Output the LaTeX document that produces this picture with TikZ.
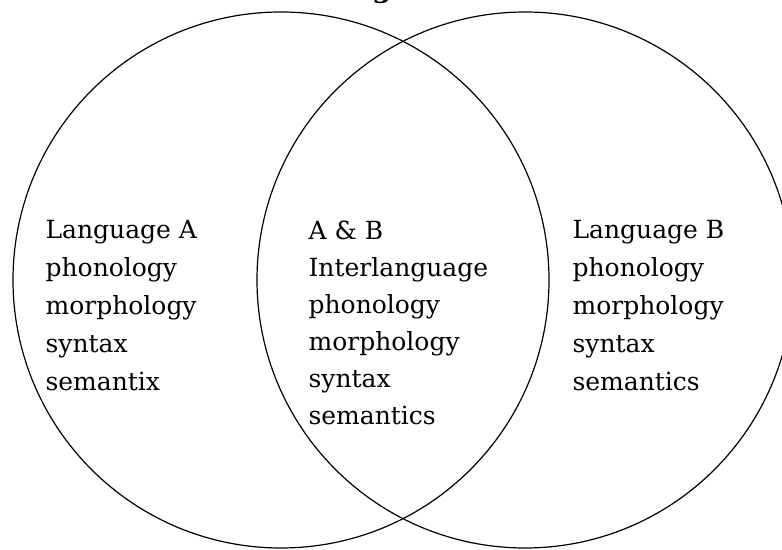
\documentclass[tikz,border=0pt]{standalone}
\usepackage{fontspec}
\setmainfont{DejaVu Serif}
\usepackage{tikz}

\tikzset{
  langtext/.style={anchor=north west,inner sep=0pt,align=left,
    font={\fontsize{12.5}{19}\selectfont}},
}

\begin{document}
\begin{tikzpicture}[x=0.5pt,y=0.5pt,radius=134pt,line width=0.6pt]
	\useasboundingbox (0,0) rectangle (782,550);
	\coordinate (A) at (281,270);
	\coordinate (B) at (525,270);
	\draw (A) circle;
	\draw (B) circle;
	% cut-off title
	\node[anchor=base,inner sep=0pt,font={\fontsize{14}{16}\bfseries\selectfont}] (title) at (382,552) {g};
	\node[langtext] (LA) at (45,330) {Language A\\phonology\\morphology\\syntax\\semantix};
	\node[langtext,font={\fontsize{12.5}{18.5}\selectfont}] (AB) at (308,330) {A \& B\\Interlanguage\\phonology\\morphology\\syntax\\semantics};
	\node[langtext] (LB) at (572,330) {Language B\\phonology\\morphology\\syntax\\semantics};
\end{tikzpicture}
\end{document}
